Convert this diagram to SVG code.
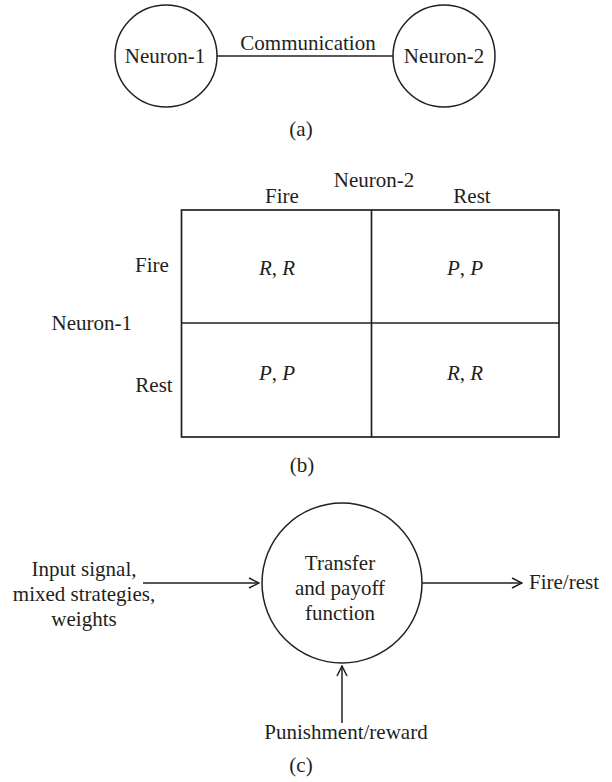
<svg xmlns="http://www.w3.org/2000/svg" width="612" height="782" viewBox="0 0 612 782">
<style>
text { font-family: "Liberation Serif", "Times New Roman", serif; font-size: 21px; fill: #231f20; }
.c { text-anchor: middle; }
.e { text-anchor: end; }
.i { font-style: italic; }
.node { fill: #ffffff; stroke: #231f20; stroke-width: 1.5; }
.conn { stroke: #231f20; stroke-width: 1.5; fill: none; }
.grid { stroke: #231f20; stroke-width: 1.7; fill: none; }
</style>
<defs>
<marker id="arr" viewBox="0 0 12 12" refX="11" refY="6" markerWidth="12" markerHeight="12" markerUnits="userSpaceOnUse" orient="auto">
<path d="M1,1 L11,6 L1,11" fill="none" stroke="#231f20" stroke-width="1.5"/>
</marker>
</defs>
<rect width="612" height="782" fill="#ffffff"/>

<g id="connectors">
<line class="conn" x1="217" y1="56" x2="393" y2="56"/>
<line class="conn" x1="143" y1="583" x2="259" y2="583" marker-end="url(#arr)"/>
<line class="conn" x1="422" y1="583" x2="522" y2="583" marker-end="url(#arr)"/>
<line class="conn" x1="342" y1="723" x2="342" y2="666" marker-end="url(#arr)"/>
</g>

<g id="neuron1">
<circle class="node" cx="166" cy="56" r="51"/>
<text class="c" x="165" y="63">Neuron-1</text>
</g>
<g id="neuron2">
<circle class="node" cx="444" cy="56" r="51"/>
<text class="c" x="444" y="63">Neuron-2</text>
</g>
<text id="comm-label" class="c" x="308" y="50">Communication</text>
<text id="cap-a" class="c" x="301" y="136">(a)</text>

<g id="payoff-table">
<rect class="grid" x="181.5" y="210" width="377.5" height="227"/>
<line class="grid" x1="371.5" y1="210" x2="371.5" y2="437"/>
<line class="grid" x1="181.5" y1="323" x2="559" y2="323"/>
<text class="c" x="374" y="187">Neuron-2</text>
<text class="c" x="282" y="203">Fire</text>
<text class="c" x="472" y="203">Rest</text>
<text class="c" x="152" y="272">Fire</text>
<text class="c" x="154" y="392">Rest</text>
<text class="e" x="132" y="330">Neuron-1</text>
<text class="c" x="277" y="275"><tspan class="i">R</tspan>, <tspan class="i">R</tspan></text>
<text class="c" x="465" y="275"><tspan class="i">P</tspan>, <tspan class="i">P</tspan></text>
<text class="c" x="277" y="380"><tspan class="i">P</tspan>, <tspan class="i">P</tspan></text>
<text class="c" x="465" y="380"><tspan class="i">R</tspan>, <tspan class="i">R</tspan></text>
</g>
<text id="cap-b" class="c" x="302" y="472">(b)</text>

<g id="transfer">
<circle class="node" cx="342" cy="583" r="80"/>
<text class="c" x="340" y="570">Transfer</text>
<text class="c" x="340" y="595">and payoff</text>
<text class="c" x="340" y="620">function</text>
</g>
<g id="input">
<text class="c" x="84" y="576">Input signal,</text>
<text class="c" x="84" y="601">mixed strategies,</text>
<text class="c" x="84" y="626">weights</text>
</g>
<g id="output">
<text x="529" y="589">Fire/rest</text>
</g>
<g id="punish">
<text class="c" x="346" y="739">Punishment/reward</text>
</g>
<text id="cap-c" class="c" x="301" y="772">(c)</text>
</svg>
